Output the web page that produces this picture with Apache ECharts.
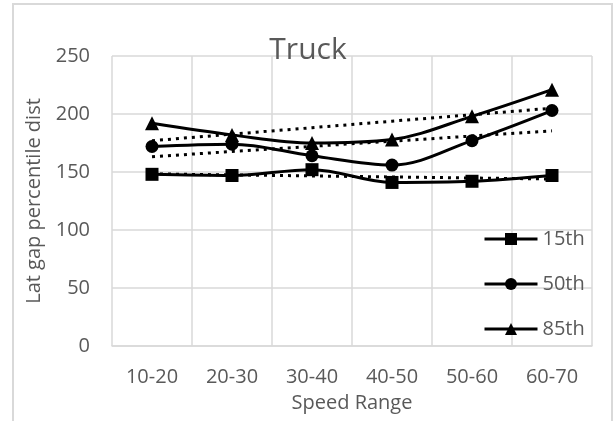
<!DOCTYPE html>
<html>
<head>
<meta charset="utf-8">
<script src="https://cdn.jsdelivr.net/npm/echarts@6/dist/echarts.min.js"></script>
<style>
  html, body { margin: 0; padding: 0; background: #fff; }
  #chart { width: 616px; height: 421px; }
</style>
</head>
<body>
<div id="chart"></div>
<script>
// Speed range categories and lateral gap percentiles for trucks
const speedRanges = ['10-20', '20-30', '30-40', '40-50', '50-60', '60-70'];
const p15 = [148, 147, 152, 141, 142, 147];
const p50 = [172, 174, 164, 156, 177, 203];
const p85 = [192, 182, 175, 178, 198, 221];
const yTicks = { min: 0, max: 250, step: 50 };

const FONT = '"Open Sans", "Liberation Sans", sans-serif';
const GREY = '#595959';
const GRID = '#d9d9d9';

// Least-squares linear trend evaluated at each category position
function linearTrend(values) {
  const n = values.length;
  const xs = values.map((_, i) => i + 1);
  const mx = xs.reduce((a, b) => a + b, 0) / n;
  const my = values.reduce((a, b) => a + b, 0) / n;
  let sxy = 0, sxx = 0;
  for (let i = 0; i < n; i++) {
    sxy += (xs[i] - mx) * (values[i] - my);
    sxx += (xs[i] - mx) * (xs[i] - mx);
  }
  const slope = sxy / sxx;
  return xs.map(x => +(my + slope * (x - mx)).toFixed(2));
}

function dataSeries(name, values, symbol, size) {
  return {
    name, type: 'line', data: values, smooth: 0.35,
    symbol, symbolSize: size,
    lineStyle: { color: '#000', width: 3 },
    itemStyle: { color: '#000' },
    z: 3
  };
}

function trendSeries(values) {
  return {
    type: 'line', data: linearTrend(values), smooth: false,
    symbol: 'none', silent: true,
    lineStyle: { color: '#000', width: 3, type: [3, 5] },
    z: 2
  };
}

const chart = echarts.init(document.getElementById('chart'), null, { renderer: 'canvas' });
chart.setOption({
  animation: false,
  backgroundColor: '#fff',
  graphic: [{
    type: 'rect', shape: { x: 13, y: 4, width: 599, height: 420 },
    style: { fill: 'none', stroke: GRID, lineWidth: 2 }, silent: true, z: -10
  }],
  title: {
    text: 'Truck', left: 'center', top: 30,
    textStyle: { fontFamily: FONT, fontSize: 30, fontWeight: 'normal', color: GREY }
  },
  grid: { left: 112, right: 24, top: 56, bottom: 75 },
  legend: {
    orient: 'vertical', left: 478, top: 224,
    itemWidth: 53, itemHeight: 15, itemGap: 25,
    data: ['15th', '50th', '85th'],
    lineStyle: { width: 3, color: '#000' },
    itemStyle: { color: '#000' },
    textStyle: { fontFamily: FONT, fontSize: 20, color: GREY }
  },
  xAxis: {
    type: 'category', data: speedRanges, boundaryGap: true,
    name: 'Speed Range', nameLocation: 'middle', nameGap: 47,
    nameTextStyle: { fontFamily: FONT, fontSize: 20, color: GREY },
    axisLine: { show: true, lineStyle: { color: GRID, width: 1.5 } },
    axisTick: { show: false },
    axisLabel: { fontFamily: FONT, fontSize: 20, color: GREY, margin: 21 },
    splitLine: { show: true, lineStyle: { color: GRID, width: 1.5 } }
  },
  yAxis: {
    type: 'value', min: yTicks.min, max: yTicks.max, interval: yTicks.step,
    name: 'Lat gap percentile dist', nameLocation: 'middle', nameGap: 64,
    nameTextStyle: { fontFamily: FONT, fontSize: 20, color: GREY },
    axisLine: { show: false },
    axisTick: { show: false },
    axisLabel: { fontFamily: FONT, fontSize: 20, color: GREY, margin: 22 },
    splitLine: { show: true, lineStyle: { color: GRID, width: 1.5 } }
  },
  series: [
    dataSeries('15th', p15, 'rect', 13),
    dataSeries('50th', p50, 'circle', 13),
    dataSeries('85th', p85, 'triangle', 14),
    trendSeries(p15),
    trendSeries(p50),
    trendSeries(p85)
  ]
});
</script>
</body>
</html>
